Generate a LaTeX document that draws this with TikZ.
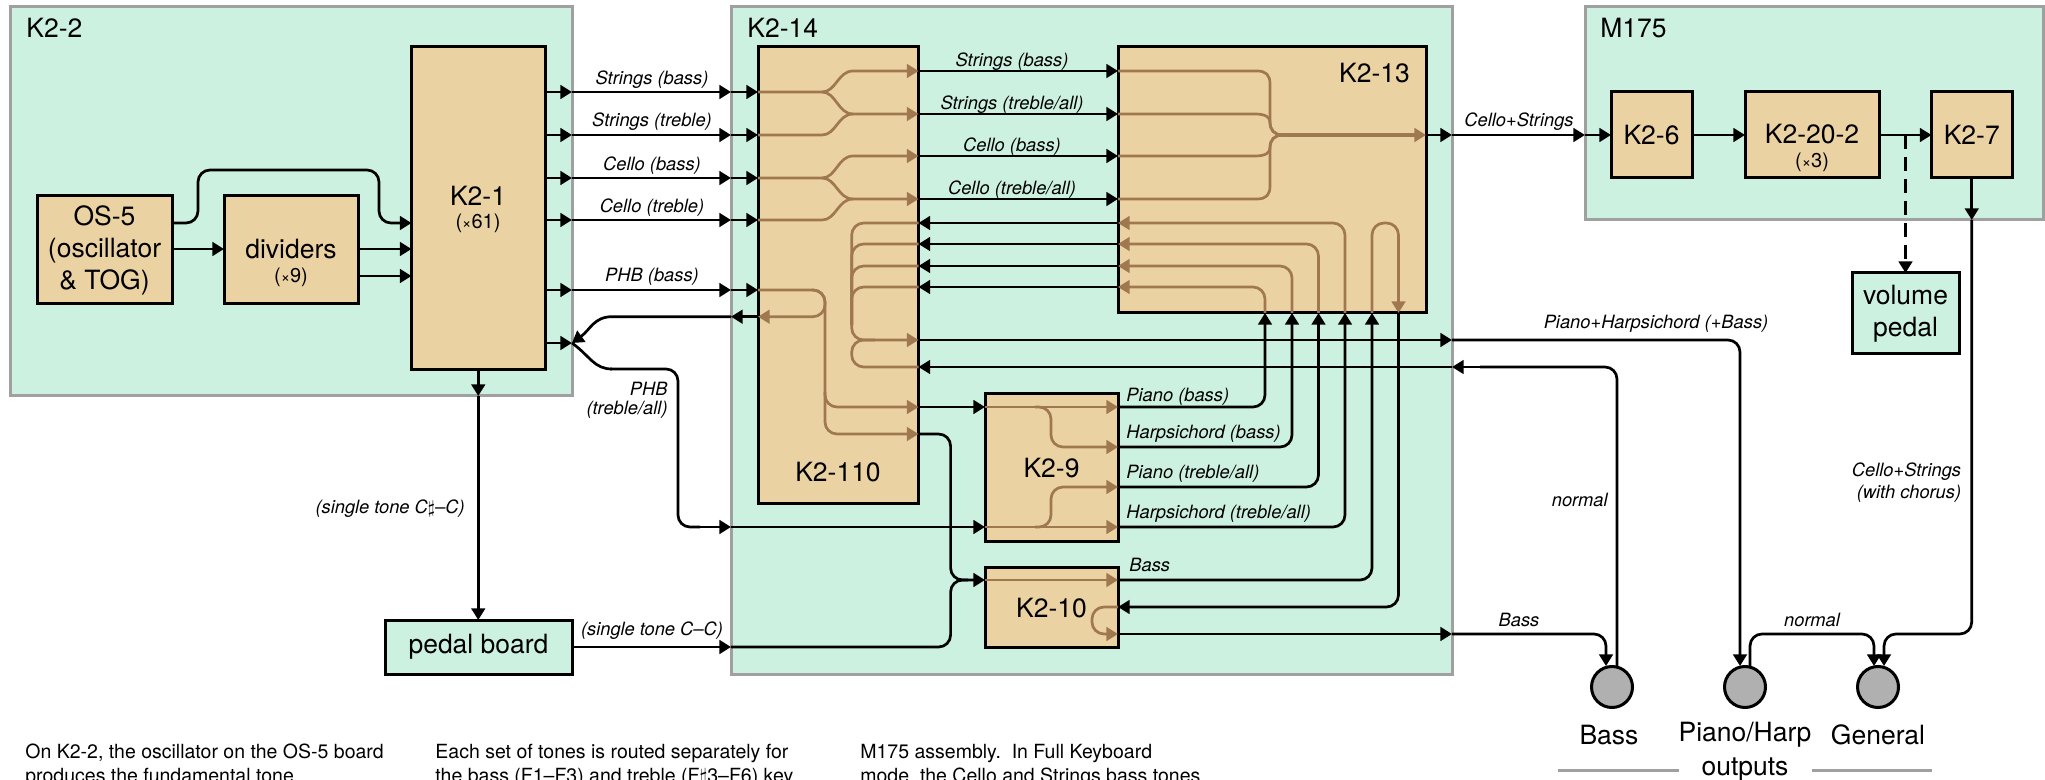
\documentclass[tikz,border=0pt]{standalone}
\usepackage{fontspec}
\setmainfont{TeX Gyre Heros}
\usetikzlibrary{arrows.meta,calc}
\definecolor{panelc}{RGB}{204,241,224}
\definecolor{boxc}{RGB}{235,210,163}
\definecolor{brownc}{RGB}{160,120,80}
\definecolor{edgec}{RGB}{160,160,160}
\definecolor{jackc}{RGB}{176,176,176}
\newcommand{\bigf}{\fontsize{13.25}{16}\selectfont}
\newcommand{\labf}{\fontsize{9.15}{11.5}\selectfont\itshape}
\newcommand{\smallf}{\fontsize{10}{11.5}\selectfont}
\newcommand{\bodyf}{\fontsize{9.75}{13}\selectfont}
\newcommand{\smalltimes}{{\fontsize{8}{8}\selectfont ×}}
\newcommand{\pbox}[7]{\node[#6,minimum width={(#4-#2)*0.5pt},minimum height={(#5-#3)*0.5pt}] (#1) at ({(#2+#4)/2},{(#3+#5)/2}) {#7};}
\tikzset{
  x=0.5pt,y=-0.5pt,
  panel/.style={draw=edgec,fill=panelc,line width=1.5pt,inner sep=0pt,outer sep=0pt},
  sbox/.style={draw=black,fill=boxc,line width=1.5pt,inner sep=0pt,outer sep=0pt,font=\bigf,align=center},
  gbox/.style={draw=black,fill=panelc,line width=1.5pt,inner sep=0pt,outer sep=0pt,font=\bigf,align=center},
  jack/.style={circle,draw=black,fill=jackc,line width=1.5pt,minimum size=20.5pt,inner sep=0pt,outer sep=0pt},
  sig/.style={draw=black,line width=1.35pt,rounded corners=6pt},
  sigar/.style={sig,-{Triangle[length=5.8pt,width=6.8pt]}},
  brn/.style={draw=brownc,line width=1.35pt,rounded corners=6pt},
  brnar/.style={brn,-{Triangle[length=5.8pt,width=6.8pt]}},
  lab/.style={font=\labf,inner sep=0pt,yshift=-0.6pt},
  big/.style={font=\bigf,inner sep=0pt,align=center},
  small/.style={font=\smallf,inner sep=0pt},
  body/.style={font=\bodyf,inner sep=0pt,anchor=base west},
}
\begin{document}
\begin{tikzpicture}
\useasboundingbox[fill=white] (0,0) rectangle (2045,780);
% panels
\pbox{kpa}{10}{7}{572}{396}{panel}{}
\pbox{kpb}{731}{7}{1452}{674}{panel}{}
\pbox{mp}{1585}{7}{2043}{220}{panel}{}
% boxes
\pbox{kone}{411.5}{47}{545}{370}{sbox}{}
\pbox{osc}{37}{196}{172}{304}{sbox}{\raisebox{-0.8pt}{OS-5}\\\raisebox{-0.8pt}{(oscillator}\\\raisebox{-0.8pt}{\& TOG)}}
\pbox{div}{224}{196}{358}{304}{sbox}{}
\pbox{kten}{758}{47}{918.5}{503}{sbox}{}
\pbox{kthir}{1118}{47}{1426}{313}{sbox}{}
\pbox{knine}{985}{394}{1118}{541}{sbox}{}
\pbox{kdec}{985}{567}{1118}{647}{sbox}{}
\pbox{ksix}{1611}{92}{1692}{178}{sbox}{K2-6}
\pbox{ktw}{1745}{92}{1879}{178}{sbox}{}
\pbox{ksev}{1931.5}{92}{2012}{178}{sbox}{K2-7}
\pbox{vol}{1852}{273}{1959}{354}{gbox}{volume\\pedal}
\pbox{ped}{385}{620}{572}{674}{gbox}{\raisebox{-1.5pt}{pedal board}}
\node[jack] (jb) at (1612,687) {};
\node[jack] (jp) at (1745,687) {};
\node[jack] (jg) at (1878,687) {};
% brown routing: K2-110
\foreach \ya/\yb/\yc in {92/71/114,178/156/199}{
  \draw[brnar,sharp corners] (kten.west|-0,\ya) -- (822,\ya) .. controls (836,\ya) and (838,\yb) .. (853,\yb) -- (kten.east|-0,\yb);
  \draw[brnar,sharp corners] (822,\ya) .. controls (836,\ya) and (838,\yc) .. (853,\yc) -- (kten.east|-0,\yc);
}
\draw[brn,sharp corners] (kten.west|-0,135) -- (822,135) .. controls (836,135) and (838,114) .. (853,114);
\draw[brn,sharp corners] (kten.west|-0,220) -- (822,220) .. controls (836,220) and (838,199) .. (853,199);
\foreach \yy in {244,266,287}{
  \draw[brn] (kten.east|-0,\yy) -- (851.7,\yy) -- (851.7,325);
}
\draw[brnar] (kten.east|-0,223) -- (851.7,223) -- (851.7,340) -- (kten.east|-0,340);
\draw[brn] (kten.east|-0,367) -- (851.7,367) -- (851.7,340) -- (875,340);
\draw[brnar] (kten.west|-0,290) -- (825,290) -- (825,316.7) -- (kten.west|-0,316.7);
\draw[brnar] (812,290) -- (825,290) -- (825,434) -- (kten.east|-0,434);
\draw[brnar] (825,392) -- (825,407) -- (kten.east|-0,407);
% brown routing: K2-13
\draw[brnar,line width=1.9pt] (1281,135) -- (kthir.east|-0,135);
\draw[brn,sharp corners] (kthir.west|-0,71) -- (1257,71) .. controls (1266,71) and (1270,75) .. (1270,84) -- (1270,122) .. controls (1270,130) and (1274,135) .. (1283,135);
\draw[brn,sharp corners] (kthir.west|-0,114) -- (1255,114) .. controls (1265,114) and (1270,117) .. (1270,122) .. controls (1270,130) and (1274,135) .. (1283,135);
\draw[brn,sharp corners] (kthir.west|-0,156) -- (1255,156) .. controls (1265,156) and (1270,153) .. (1270,148) .. controls (1270,140) and (1274,135) .. (1283,135);
\draw[brn,sharp corners] (kthir.west|-0,199) -- (1257,199) .. controls (1266,199) and (1270,195) .. (1270,186) -- (1270,148) .. controls (1270,140) and (1274,135) .. (1283,135);
\draw[brnar] (1265,313) -- (1265,287) -- (kthir.west|-0,287);
\draw[brnar] (1292,313) -- (1292,266) -- (kthir.west|-0,266);
\draw[brnar] (1318.5,313) -- (1318.5,244) -- (kthir.west|-0,244);
\draw[brnar] (1345,313) -- (1345,223) -- (kthir.west|-0,223);
\draw[brnar] (1372,313) -- (1372,223) -- (1398.5,223) -- (1398.5,313);
% brown routing: K2-9, K2-10
\draw[brnar] (knine.west|-0,407) -- (knine.east|-0,407);
\draw[brnar] (1035,407) -- (1051,407) -- (1051,447) -- (knine.east|-0,447);
\draw[brnar] (knine.west|-0,527) -- (knine.east|-0,527);
\draw[brnar] (1035,527) -- (1051,527) -- (1051,487) -- (knine.east|-0,487);
\draw[brnar] (kdec.west|-0,580) -- (kdec.east|-0,580);
\draw[brnar] (kdec.east|-0,607) -- (1092,607) -- (1092,634) -- (kdec.east|-0,634);
% black: K2-2
\draw[sig] (osc.east|-0,223) -- (198,223) -- (198,170) -- (379,170) -- (379,223) -- (401,223);
\draw[sigar] (395,223) -- (kone.west|-0,223);
\draw[sigar] (osc.east|-0,249) -- (div.west|-0,249);
\draw[sigar] (div.east|-0,249) -- (kone.west|-0,249);
\draw[sigar] (div.east|-0,276) -- (kone.west|-0,276);
\foreach \yy in {92,135,178,220,290}{
  \draw[sigar] (kone.east|-0,\yy) -- (kpa.east|-0,\yy);
  \draw[sigar] (kpa.east|-0,\yy) -- (kpb.west|-0,\yy);
  \draw[sigar] (kpb.west|-0,\yy) -- (kten.west|-0,\yy);
}
\draw[sigar] (kone.east|-0,343) -- (kpa.east|-0,343);
\draw[sigar] (kten.west|-0,316.7) -- (kpb.west|-0,316.7);
\draw[sigar,sharp corners] (kpb.west|-0,316.7) -- (612,316.7) .. controls (594,316.7) and (590,330) .. (kpa.east|-0,343);
\draw[sig,sharp corners] (kpa.east|-0,343) .. controls (590,356) and (594,369) .. (612,369);
\draw[sig] (610,369) -- (678,369) -- (678,527) -- (700,527);
\draw[sigar] (690,527) -- (kpb.west|-0,527);
\draw[sigar] (kpb.west|-0,527) -- (knine.west|-0,527);
\draw[sigar] (kone.south) -- (kpa.south-|kone.south);
\draw[sigar] (kpa.south-|kone.south) -- (ped.north-|kone.south);
\draw[sigar] (ped.east|-0,647) -- (kpb.west|-0,647);
% black: K2-14
\draw[sigar] (kten.east|-0,71) -- (kthir.west|-0,71);
\draw[sigar] (kten.east|-0,114) -- (kthir.west|-0,114);
\draw[sigar] (kten.east|-0,156) -- (kthir.west|-0,156);
\draw[sigar] (kten.east|-0,199) -- (kthir.west|-0,199);
\foreach \yy in {223,244,266,287}{
  \draw[sigar] (kthir.west|-0,\yy) -- (kten.east|-0,\yy);
}
\draw[sigar] (kten.east|-0,407) -- (knine.west|-0,407);
\draw[sigar] (kten.east|-0,434) -- (950.6,434) -- (950.6,580) -- (kdec.west|-0,580);
\draw[sig] (kpb.west|-0,647) -- (950.6,647) -- (950.6,580) -- (968,580);
\draw[sigar] (kten.east|-0,340) -- (kpb.east|-0,340);
\draw[sigar] (kpb.east|-0,367) -- (kten.east|-0,367);
\draw[sigar] (knine.east|-0,407) -- (1265,407) -- (1265,0|-kthir.south);
\draw[sigar] (knine.east|-0,447) -- (1292,447) -- (1292,0|-kthir.south);
\draw[sigar] (knine.east|-0,487) -- (1318.5,487) -- (1318.5,0|-kthir.south);
\draw[sigar] (knine.east|-0,527) -- (1345,527) -- (1345,0|-kthir.south);
\draw[sigar] (kdec.east|-0,580) -- (1372,580) -- (1372,0|-kthir.south);
\draw[sigar] (1398.5,0|-kthir.south) -- (1398.5,607) -- (kdec.east|-0,607);
\draw[sigar] (kdec.east|-0,634) -- (kpb.east|-0,634);
% black: right side
\draw[sigar] (kthir.east|-0,135) -- (kpb.east|-0,135);
\draw[sigar] (kpb.east|-0,135) -- (mp.west|-0,135);
\draw[sigar] (mp.west|-0,135) -- (ksix.west|-0,135);
\draw[sigar] (ksix.east|-0,135) -- (ktw.west|-0,135);
\draw[sigar] (ktw.east|-0,135) -- (ksev.west|-0,135);
\draw[sigar,dash pattern=on 7pt off 4pt] (vol.north|-0,135) -- (vol.north);
\draw[sigar] (ksev.south) -- (mp.south-|ksev.south);
\draw[sigar] (mp.south-|ksev.south) -- (ksev.south|-0,634) -- (1884,634) -- (1884,666);
\draw[sigar] (kpb.east|-0,340) -- (1740,340) -- (1740,666);
\draw[sig] (1617,667) -- (1617,367) -- (1480,367);
\draw[sigar] (1500,367) -- (kpb.east|-0,367);
\draw[sigar] (kpb.east|-0,634) -- (1606,634) -- (1606,666);
\draw[sigar] (1750,667) -- (1750,634) -- (1874,634) -- (1874,666);
% labels
\node[big,anchor=west] (tka) at (26,28) {K2-2};
\node[big,anchor=west] (tkb) at (747,28) {K2-14};
\node[big,anchor=west] (tmp) at (1600,28) {M175};
\node[big] (tone) at (478,196) {K2-1};
\node[small] (tonex) at (478,223) {(\smalltimes61)};
\node[big] (tdiv) at (291,249) {dividers};
\node[small] (tdivx) at (291,277) {(\smalltimes9)};
\node[big] (tten) at (838,472) {K2-110};
\node[big] (tthir) at (1374.5,73) {K2-13};
\node[big] (tnine) at (1051.5,468) {K2-9};
\node[big] (tdec) at (1051.5,608) {K2-10};
\node[big] (ttw) at (1812,134) {K2-20-2};
\node[small] (ttwx) at (1812,162) {(\smalltimes3)};
\node[lab] (l1) at (652,78) {Strings (bass)};
\node[lab] (l2) at (652,120) {Strings (treble)};
\node[lab] (l3) at (652,164) {Cello (bass)};
\node[lab] (l4) at (652,206) {Cello (treble)};
\node[lab] (l5) at (652,276) {PHB (bass)};
\node[lab,anchor=east] (l6) at (668,388) {PHB};
\node[lab,anchor=east] (l7) at (668,409) {(treble/all)};
\node[lab,anchor=east] (l8) at (465,507) {(single tone C\ensuremath{\sharp}–C)};
\node[lab] (l9) at (652,629) {(single tone C–C)};
\node[lab] (m1) at (1012,60) {Strings (bass)};
\node[lab] (m2) at (1012,103) {Strings (treble/all)};
\node[lab] (m3) at (1012,145) {Cello (bass)};
\node[lab] (m4) at (1012,188) {Cello (treble/all)};
\node[lab,anchor=west] (m5) at (1126,396) {Piano (bass)};
\node[lab,anchor=west] (m6) at (1126,433) {Harpsichord (bass)};
\node[lab,anchor=west] (m7) at (1126,473) {Piano (treble/all)};
\node[lab,anchor=west] (m8) at (1126,513) {Harpsichord (treble/all)};
\node[lab,anchor=west] (m9) at (1129,564) {Bass};
\node[lab] (r1) at (1519,120) {Cello+Strings};
\node[lab] (r2) at (1656,323) {Piano+Harpsichord (+Bass)};
\node[lab,anchor=east] (r3) at (1608,499) {normal};
\node[lab,anchor=east] (r4) at (1961.5,470) {Cello+Strings};
\node[lab,anchor=east] (r5) at (1961.5,493) {(with chorus)};
\node[lab] (r6) at (1519,619) {Bass};
\node[lab] (r7) at (1812,619) {normal};
\node[big] (o1) at (1609,735) {Bass};
\node[big] (o2) at (1745,735) {Piano/Harp};
\node[big] (o3) at (1878,735) {General};
\node[big] (o4) at (1745,769.5) {outputs};
\coordinate (gl) at (1558,770);
\coordinate (gm) at (1678.5,770);
\coordinate (gn) at (1812,770);
\coordinate (gr) at (1931.5,770);
\draw[draw=edgec,line width=1.5pt] (gl) -- (gm);
\draw[draw=edgec,line width=1.5pt] (gn) -- (gr);
\node[body] (b1) at (25,758) {On K2-2, the oscillator on the OS-5 board};
\node[body] (b2) at (25,782) {produces the fundamental tone};
\node[body] (b3) at (435,758) {Each set of tones is routed separately for};
\node[body] (b4) at (435,782) {the bass (F1–F3) and treble (F\ensuremath{\sharp}3–F6) key};
\node[body] (b5) at (860,758) {M175 assembly.\ \ In Full Keyboard};
\node[body] (b6) at (860,782) {mode, the Cello and Strings bass tones};
\end{tikzpicture}
\end{document}
